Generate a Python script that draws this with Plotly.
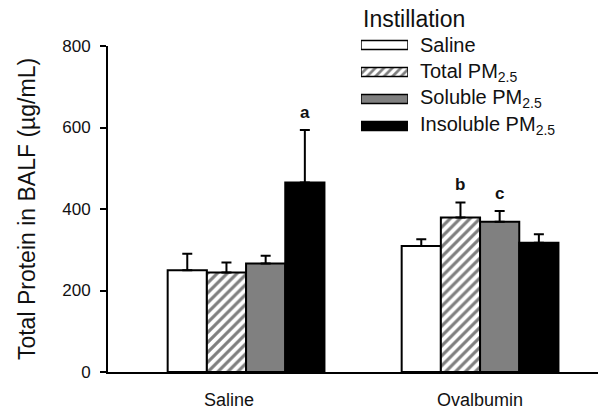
import plotly.graph_objects as go

# ---- data ----
groups = ["Saline", "Ovalbumin"]
group_pos = [0, 1]
series = ["Saline", "Total PM<sub>2.5</sub>", "Soluble PM<sub>2.5</sub>", "Insoluble PM<sub>2.5</sub>"]
means = {
    "Saline": [250, 309],
    "Total PM<sub>2.5</sub>": [244, 379],
    "Soluble PM<sub>2.5</sub>": [266, 369],
    "Insoluble PM<sub>2.5</sub>": [465, 317],
}
errs = {
    "Saline": [40, 17],
    "Total PM<sub>2.5</sub>": [25, 37],
    "Soluble PM<sub>2.5</sub>": [19, 26],
    "Insoluble PM<sub>2.5</sub>": [129, 21],
}
# significance letters: (group index, series index, letter)
letters = [(0, 3, "a"), (1, 1, "b"), (1, 2, "c")]
y_ticks = [0, 200, 400, 600, 800]

# ---- styles ----
FONT = "Liberation Sans, Arial, Helvetica, sans-serif"
TXT = "#111"
fills = ["white", "white", "#808080", "black"]
hatch = dict(shape="/", fgcolor="black", bgcolor="white", size=7, solidity=0.45)
patterns = [None, hatch, None, None]

fig = go.Figure()
for i, s in enumerate(series):
    mk = dict(color=fills[i], line=dict(color="black", width=2))
    if patterns[i]:
        mk["pattern"] = patterns[i]
    fig.add_trace(go.Bar(
        x=group_pos, y=means[s], name=s, marker=mk, showlegend=False,
        error_y=dict(type="data", array=errs[s], arrayminus=[0] * len(groups),
                     symmetric=False, color="black", thickness=2, width=5),
    ))

# custom legend swatches (horizontal bars on a hidden axis)
for i, s in enumerate(series):
    mk = dict(color=fills[i], line=dict(color="black", width=1.5))
    if patterns[i]:
        mk["pattern"] = dict(shape="/", fgcolor="black", bgcolor="white", size=6, solidity=0.45)
    fig.add_trace(go.Bar(
        x=[1], y=[len(series) - 1 - i], orientation="h", marker=mk, width=0.34,
        xaxis="x2", yaxis="y2", showlegend=False, hoverinfo="skip",
    ))
    fig.add_annotation(
        x=0.6327, xref="paper", y=len(series) - 1 - i, yref="y2",
        text=s, showarrow=False, xanchor="left", yanchor="middle",
        font=dict(family=FONT, size=20, color=TXT),
    )
fig.add_annotation(
    x=0.516, xref="paper", y=0.949, yref="paper", text="Instillation",
    showarrow=False, xanchor="left", yanchor="middle",
    font=dict(family=FONT, size=23, color=TXT),
)

# significance letters
ngroups = len(series)
bargap = 0.33
w = (1 - bargap) / ngroups
for g, si, txt in letters:
    s = series[si]
    xpos = group_pos[g] + (si - (ngroups - 1) / 2) * w
    fig.add_annotation(
        x=xpos, y=means[s][g] + errs[s][g], xref="x", yref="y",
        text="<b>" + txt + "</b>", showarrow=False, yanchor="bottom", yshift=6,
        font=dict(family=FONT, size=17, color=TXT),
    )

fig.update_layout(
    width=598, height=413,
    margin=dict(l=108, r=0, t=0, b=41, autoexpand=False),
    paper_bgcolor="white", plot_bgcolor="white",
    barmode="group", bargap=bargap, bargroupgap=0,
    font=dict(family=FONT, color=TXT),
    xaxis=dict(
        range=[-0.59, 1.504], showline=True, linecolor="black", linewidth=2,
        ticks="", showgrid=False, zeroline=False, automargin=False,
        tickmode="array", tickvals=[-0.073, 1.0], ticktext=groups,
        tickfont=dict(family=FONT, size=18, color=TXT), ticklabelstandoff=10,
    ),
    yaxis=dict(
        domain=[0, 326 / 372], range=[0, 800], tickvals=y_ticks,
        showline=True, linecolor="black", linewidth=2, automargin=False,
        ticks="outside", ticklen=6, tickwidth=2, tickcolor="black",
        showgrid=False, zeroline=False,
        tickfont=dict(family=FONT, size=17, color=TXT), ticklabelstandoff=6,
        title=dict(text="Total Protein in BALF (µg/mL)", standoff=20,
                   font=dict(family=FONT, size=23, color=TXT)),
    ),
    xaxis2=dict(domain=[0.5163, 0.6122], range=[0, 1], visible=False, anchor="y2",
                automargin=False),
    yaxis2=dict(domain=[0.625, 0.9153], range=[-0.5, 3.5], visible=False, anchor="x2",
                automargin=False),
)

fig.write_html("out.html")
